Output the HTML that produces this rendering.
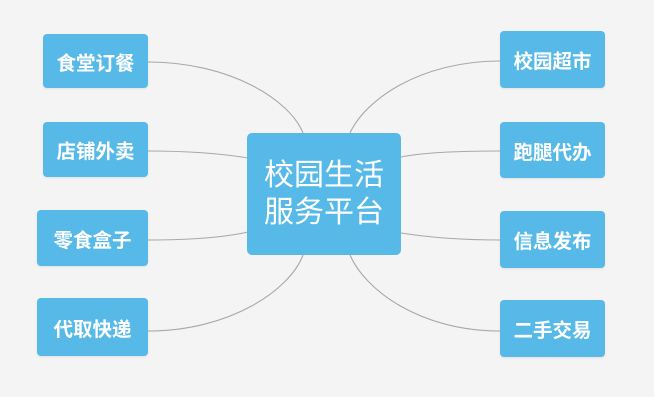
<!DOCTYPE html>
<html><head><meta charset="utf-8"><style>
html,body{margin:0;padding:0;background:#fff;}
body{width:663px;height:415px;position:relative;overflow:hidden;font-family:"Liberation Sans","Noto Sans CJK SC",sans-serif;}
.bg{position:absolute;left:0;top:0;width:654px;height:397px;background:#f4f4f4;}
.b{position:absolute;background:#57b9e8;border-radius:4px;color:#fff;font-weight:bold;font-size:19.5px;display:flex;align-items:center;justify-content:center;box-shadow:0 1px 2px rgba(0,0,0,0.08);}
.c{position:absolute;left:247px;top:133px;width:154px;height:122px;background:#57b9e8;border-radius:5px;color:#fff;font-size:30px;line-height:37px;text-align:center;display:flex;align-items:center;justify-content:center;}
svg{position:absolute;left:0;top:0;}
</style></head><body>
<div class="bg"></div>
<svg width="663" height="415"><g fill="none" stroke="#a8a8a8" stroke-width="1.1">
<path d="M148,62 C230,62 290,100 303,133"/>
<path d="M148,151 C200,151 230,155 248,158"/>
<path d="M148,240 C200,240 230,236 248,232"/>
<path d="M148,331 C230,331 290,290 303,255"/>
<path d="M500,61 C420,61 365,100 350,133"/>
<path d="M500,151 C450,151 420,153 401,157"/>
<path d="M500,240 C450,240 420,236 401,233"/>
<path d="M500,331 C420,331 365,290 350,255"/>
</g></svg>
<div class="b" style="left:43px;top:34px;width:105px;height:54px;">食堂订餐</div>
<div class="b" style="left:43px;top:122px;width:105px;height:55px;">店铺外卖</div>
<div class="b" style="left:37px;top:210px;width:111px;height:56px;">零食盒子</div>
<div class="b" style="left:37px;top:298px;width:111px;height:58px;">代取快递</div>
<div class="b" style="left:500px;top:31px;width:105px;height:57px;">校园超市</div>
<div class="b" style="left:500px;top:122px;width:105px;height:56px;">跑腿代办</div>
<div class="b" style="left:500px;top:211px;width:105px;height:57px;">信息发布</div>
<div class="b" style="left:500px;top:300px;width:105px;height:57px;">二手交易</div>
<div class="c">校园生活<br>服务平台</div>
</body></html>
